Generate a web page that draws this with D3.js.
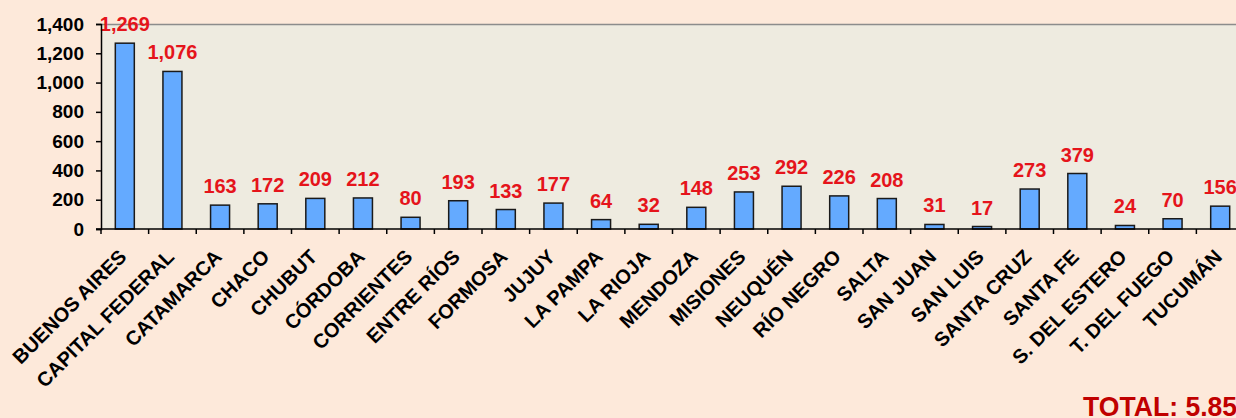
<!DOCTYPE html>
<html>
<head>
<meta charset="utf-8">
<script src="https://cdn.jsdelivr.net/npm/d3@7"></script>
<style>
  body { margin: 0; background: #fde9da; overflow: hidden; }
  svg { display: block; font-family: "Liberation Sans", Arial, sans-serif; font-weight: bold; }
</style>
</head>
<body>
<div id="chart"></div>
<script>
// provinces and counts
var provincias = ["BUENOS AIRES","CAPITAL FEDERAL","CATAMARCA","CHACO","CHUBUT","CÓRDOBA",
    "CORRIENTES","ENTRE RÍOS","FORMOSA","JUJUY","LA PAMPA","LA RIOJA","MENDOZA","MISIONES",
    "NEUQUÉN","RÍO NEGRO","SALTA","SAN JUAN","SAN LUIS","SANTA CRUZ","SANTA FE",
    "S. DEL ESTERO","T. DEL FUEGO","TUCUMÁN"];
var casos = [1269,1076,163,172,209,212,80,193,133,177,64,32,148,253,292,226,208,31,17,273,379,24,70,156];
var yTicks = [0,200,400,600,800,1000,1200,1400];
var totalLabel = "TOTAL: 5.857";

var W = 1236, H = 418;
var mLeft = 101, mRight = 1244, mTop = 24, mBottom = 229;

var bgColor = "#fde9da";
var plotColor = "#eeebe0";
var barColor = "#64aaff";
var redColor = "#e5141b";

var svg = d3.select("#chart").append("svg")
    .attr("width", W)
    .attr("height", H);

svg.append("rect").attr("width", W).attr("height", H).attr("fill", bgColor);

var x = d3.scaleLinear()
    .domain([0, provincias.length])
    .range([mLeft, mRight]);

var y = d3.scaleLinear()
    .domain([0, 1400])
    .range([mBottom, mTop]);

// plot area
svg.append("rect")
    .attr("x", mLeft).attr("y", mTop)
    .attr("width", mRight - mLeft).attr("height", mBottom - mTop)
    .attr("fill", plotColor);
svg.append("line")
    .attr("x1", mLeft).attr("x2", mRight)
    .attr("y1", y(1400) + 0.5).attr("y2", y(1400) + 0.5)
    .attr("stroke", "#8c8c8c").attr("stroke-width", 1.5);

// bars
svg.selectAll("rect.bar").data(casos).enter().append("rect")
    .attr("class", "bar")
    .attr("x", function (d, i) { return x(i + 0.5) - 9.5; })
    .attr("width", 19)
    .attr("y", function (d) { return y(d); })
    .attr("height", function (d) { return mBottom - y(d); })
    .attr("fill", barColor)
    .attr("stroke", "#1a1a1a")
    .attr("stroke-width", 1.5);

// value labels
svg.selectAll("text.val").data(casos).enter().append("text")
    .attr("class", "val")
    .attr("x", function (d, i) { return x(i + 0.5); })
    .attr("y", function (d) { return y(d) - 12; })
    .attr("text-anchor", "middle")
    .attr("fill", redColor)
    .style("font-size", "20px")
    .text(function (d) { return d3.format(",")(d); });

// y axis
var yAxis = svg.append("g")
    .attr("transform", "translate(" + mLeft + ",0)")
    .call(d3.axisLeft(y).tickValues(yTicks).tickSize(5).tickPadding(12).tickFormat(d3.format(",")));
yAxis.selectAll("text").style("font-size", "19px").attr("fill", "#000")
    .style("font-family", "'Liberation Sans', Arial, sans-serif").style("font-weight", "bold");
yAxis.selectAll("line, path").attr("stroke", "#000").attr("stroke-width", 1.5);

// x axis: line and ticks at band boundaries
svg.append("line")
    .attr("x1", mLeft - 5).attr("x2", mRight)
    .attr("y1", mBottom).attr("y2", mBottom)
    .attr("stroke", "#000").attr("stroke-width", 1.5);
svg.selectAll("line.xt").data(d3.range(provincias.length + 1)).enter().append("line")
    .attr("class", "xt")
    .attr("x1", function (d) { return x(d); })
    .attr("x2", function (d) { return x(d); })
    .attr("y1", mBottom).attr("y2", mBottom + 5)
    .attr("stroke", "#000").attr("stroke-width", 1.5);

// category labels
svg.selectAll("text.cat").data(provincias).enter().append("text")
    .attr("class", "cat")
    .attr("transform", function (d, i) {
        return "translate(" + (x(i + 0.5) + 3) + "," + 258 + ") rotate(-45)";
    })
    .attr("text-anchor", "end")
    .attr("fill", "#000")
    .style("font-size", "20px")
    .text(function (d) { return d; });

// total (runs off the right edge like in the original)
svg.append("text")
    .attr("transform", "translate(1083,416) scale(0.95,1)")
    .attr("fill", "#c00000")
    .style("font-size", "28px")
    .text(totalLabel);
</script>
</body>
</html>
